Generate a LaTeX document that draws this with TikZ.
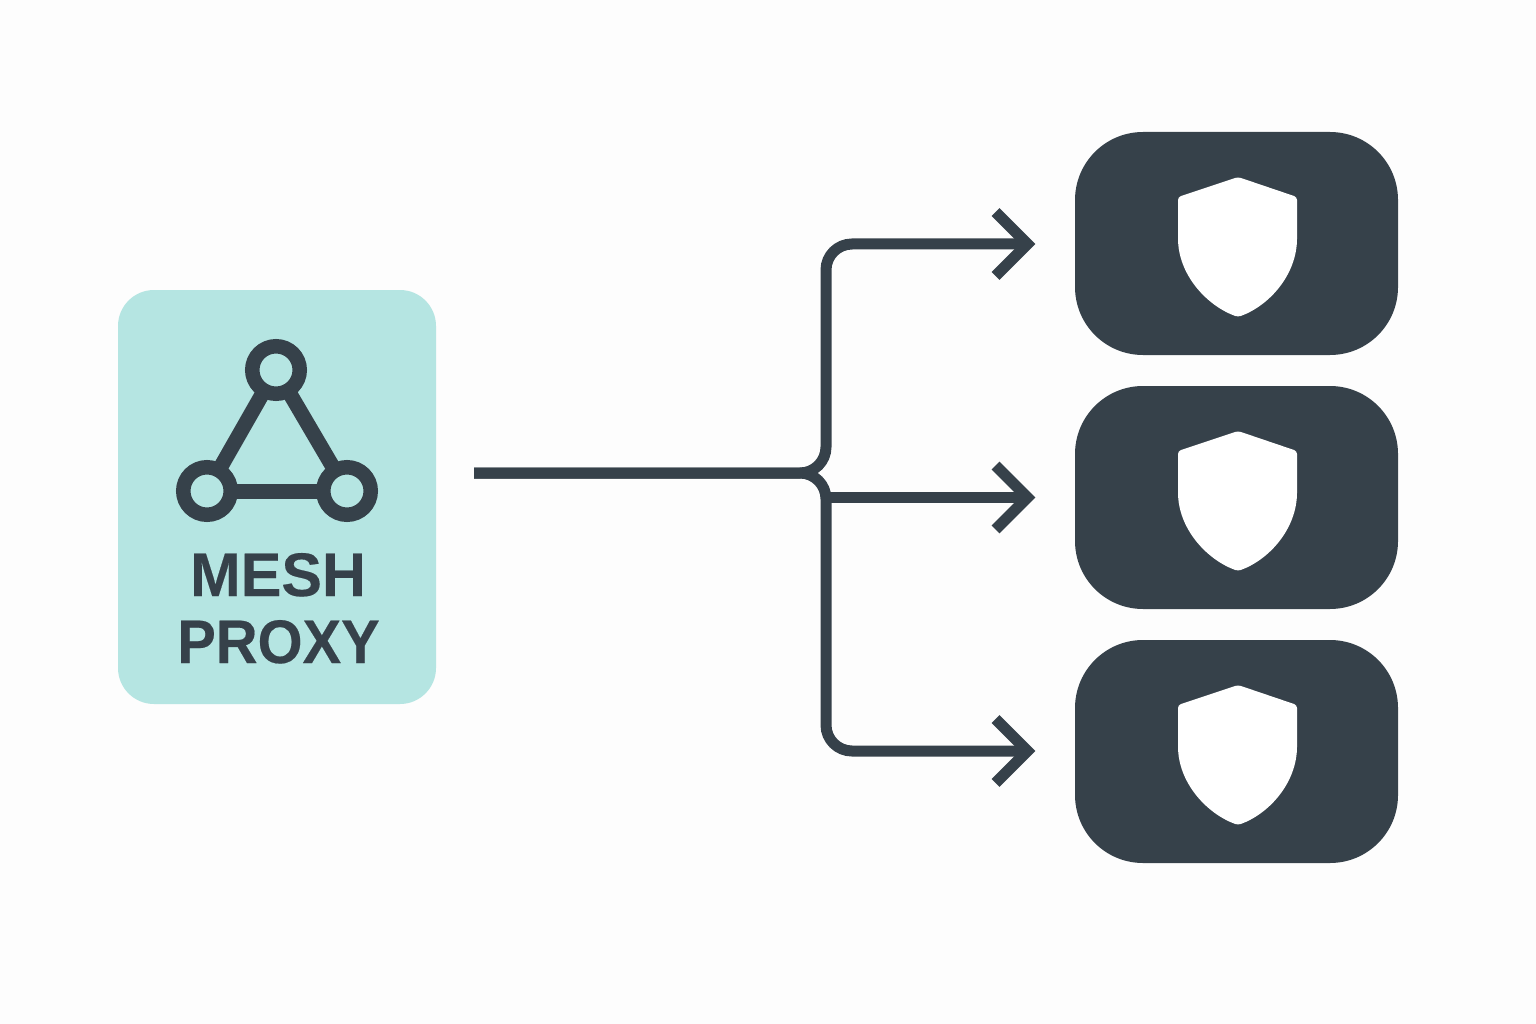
\documentclass[tikz,border=0pt]{standalone}
\usepackage{fontspec}
\setmainfont{Liberation Sans}
\newfontfamily\meshfont[FakeStretch=0.99,BoldFeatures={FakeBold=0.3}]{Liberation Sans}
\newfontfamily\proxyfont[FakeStretch=0.94,BoldFeatures={FakeBold=0.3}]{Liberation Sans}
\usetikzlibrary{backgrounds}
\definecolor{ink}{HTML}{36414A}
\definecolor{cardbg}{HTML}{B5E5E2}
\definecolor{paper}{HTML}{FDFDFD}
\tikzset{
  card/.style={fill=cardbg,rounded corners=36pt,minimum width=318pt,minimum height=414pt,inner sep=0pt},
  hub/.style={circle,draw=ink,fill=cardbg,line width=14.5pt,minimum size=47.5pt,inner sep=0pt},
  link/.style={draw=ink,line width=15pt},
  label/.style={text=ink,anchor=base,inner sep=0pt},
  target/.style={fill=ink,rounded corners=68pt,minimum width=323pt,minimum height=223pt,inner sep=0pt},
  flow/.style={draw=ink,line width=11pt,line join=miter,miter limit=10},
  pics/shieldmark/.style={code={
    \fill[white,rounded corners=3pt] (1.5,-66.5) -- (60.5,-46.5) -- (60.5,-8)
      .. controls (60.5,31) and (33,62) .. (1.5,73.5)
      .. controls (-30,62) and (-58.5,31) .. (-58.5,-8) -- (-58.5,-46.5) -- cycle;
  }}
}
\begin{document}
\begin{tikzpicture}[x=1pt,y=-1pt]
\useasboundingbox (0,0) rectangle (1536,1024);
\node[hub] (hubtop) at (276,370) {};
\node[hub] (hubleft) at (207,491) {};
\node[hub] (hubright) at (347,491) {};
\begin{pgfonlayer}{background}
\fill[paper] (0,0) rectangle (1536,1024);
\node[card] (proxy) at (277,497) {};
\draw[link,xshift=-2.5pt] (hubtop.center) -- (hubleft.center);
\draw[link,xshift=2.5pt] (hubtop.center) -- (hubright.center);
\draw[link] (hubleft.center) -- (hubright.center);
\end{pgfonlayer}
\node[label] (mesh) at (278,596) {\meshfont\bfseries\fontsize{61.5pt}{61.5pt}\selectfont MESH};
\node[label] (prox) at (278.5,663) {\proxyfont\bfseries\fontsize{61.5pt}{61.5pt}\selectfont PROXY};
\node[target] (box1) at (1236.5,243.5) {};
\node[target] (box2) at (1236.5,497.5) {};
\node[target] (box3) at (1236.5,751.5) {};
\pic at (box1.center) {shieldmark};
\pic at (box2.center) {shieldmark};
\pic at (box3.center) {shieldmark};
\coordinate (src) at (474,473);
\coordinate (fork) at (826,473);
\coordinate (t1) at (1027.5,244);
\coordinate (t2) at (1027.5,497.5);
\coordinate (t3) at (1027.5,751);
\draw[flow,rounded corners=26pt] (src) -- (fork) -- (fork |- t1) -- (t1);
\draw[flow,rounded corners=26pt] (src) -- (fork) -- (fork |- t3) -- (t3);
\draw[flow] (fork |- t2) -- (t2);
\foreach \t in {t1,t2,t3}
  \draw[flow] ([shift={(-32,-32)}]\t) -- (\t) -- ([shift={(-32,32)}]\t);
\end{tikzpicture}
\end{document}
